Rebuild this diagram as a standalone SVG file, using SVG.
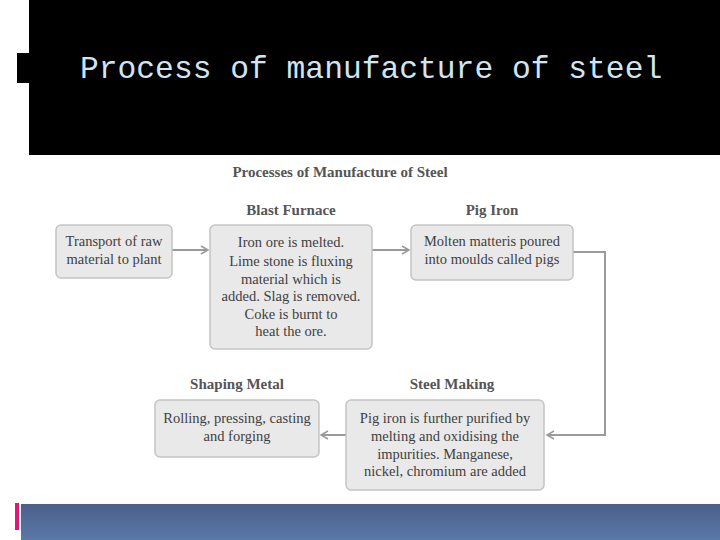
<svg xmlns="http://www.w3.org/2000/svg" width="720" height="540" viewBox="0 0 720 540">
<style>
.box{fill:#e9e9e9;stroke:#c4c4c4;stroke-width:1.5}
.t{font-family:"Liberation Serif",serif;font-size:14.5px;fill:#404040;text-anchor:middle}
.h{font-family:"Liberation Serif",serif;font-size:15px;font-weight:bold;fill:#555;text-anchor:middle}
.c{fill:none;stroke:#9a9a9a;stroke-width:2}
</style>
<defs>
<marker id="a" markerWidth="10" markerHeight="10" refX="8" refY="5" orient="auto" markerUnits="userSpaceOnUse"><path d="M1,1 L8,5 L1,9" fill="none" stroke="#9a9a9a" stroke-width="1.5"/></marker>
<linearGradient id="g" x1="0" y1="0" x2="0" y2="1"><stop offset="0" stop-color="#4a6089"/><stop offset="1" stop-color="#5a78a8"/></linearGradient>
</defs>
<rect width="720" height="540" fill="#fff"/>
<rect x="29" y="0" width="691" height="155" fill="#000"/>
<rect x="17" y="53" width="12" height="30" fill="#000"/>
<text x="80" y="78" font-family="Liberation Mono,monospace" font-size="31.3" fill="#cfe6f2">Process of manufacture of steel</text>
<rect x="21" y="504" width="699" height="36" fill="url(#g)"/>
<rect x="15" y="503" width="4" height="27" fill="#e0187a"/>
<text x="340" y="177" class="h">Processes of Manufacture of Steel</text>
<g id="connectors">
<line class="c" x1="172" y1="250" x2="208" y2="250" marker-end="url(#a)"/>
<line class="c" x1="372" y1="250" x2="409" y2="250" marker-end="url(#a)"/>
<polyline class="c" points="573,252 605,252 605,435 547,435" marker-end="url(#a)"/>
<line class="c" x1="346" y1="435" x2="321" y2="435" marker-end="url(#a)"/>
</g>
<g id="transport">
<rect class="box" x="56" y="225" width="116" height="53" rx="5"/>
<text class="t" x="114" y="246">Transport of raw</text>
<text class="t" x="114" y="264">material to plant</text>
</g>
<g id="blast">
<text class="h" x="291" y="215">Blast Furnace</text>
<rect class="box" x="210" y="225" width="162" height="124" rx="5"/>
<text class="t" x="291" y="247">Iron ore is melted.</text>
<text class="t" x="291" y="266">Lime stone is fluxing</text>
<text class="t" x="291" y="284">material which is</text>
<text class="t" x="291" y="301">added. Slag is removed.</text>
<text class="t" x="291" y="319">Coke is burnt to</text>
<text class="t" x="291" y="336">heat the ore.</text>
</g>
<g id="pig">
<text class="h" x="492" y="215">Pig Iron</text>
<rect class="box" x="411" y="225" width="162" height="55" rx="5"/>
<text class="t" x="492" y="246">Molten matteris poured</text>
<text class="t" x="492" y="264">into moulds called pigs</text>
</g>
<g id="steel">
<text class="h" x="452" y="389">Steel Making</text>
<rect class="box" x="346" y="400" width="198" height="90" rx="5"/>
<text class="t" x="445" y="423">Pig iron is further purified by</text>
<text class="t" x="445" y="441">melting and oxidising the</text>
<text class="t" x="445" y="459">impurities. Manganese,</text>
<text class="t" x="445" y="476">nickel, chromium are added</text>
</g>
<g id="shaping">
<text class="h" x="237" y="389">Shaping Metal</text>
<rect class="box" x="155" y="400" width="164" height="57" rx="5"/>
<text class="t" x="237" y="423">Rolling, pressing, casting</text>
<text class="t" x="237" y="441">and forging</text>
</g>
</svg>
